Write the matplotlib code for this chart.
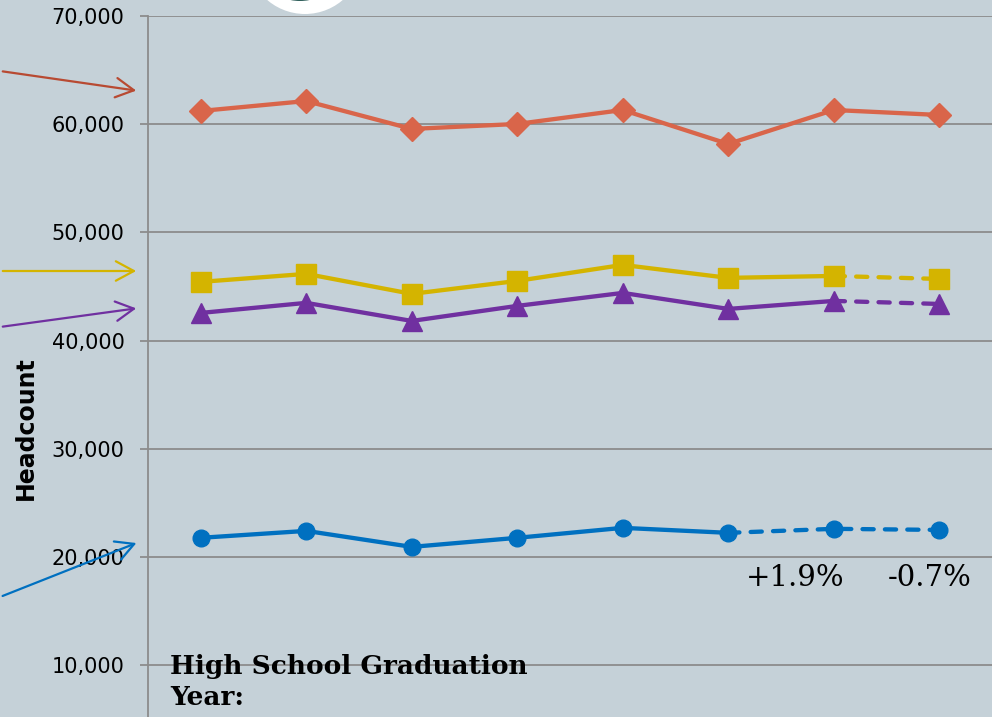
import matplotlib.pyplot as plt
import matplotlib.patches as mpatches
from matplotlib.transforms import IdentityTransform
import numpy as np

# headcount per graduation year (last points projected)
years = ['HS1', 'HS2', 'HS3', 'HS4', 'HS5', 'HS6', 'HS7', 'HS8']
orange_vals = [61220, 62140, 59560, 60020, 61310, 58170, 61310, 60850]
yellow_vals = [45420, 46160, 44310, 45510, 46990, 45790, 45970, 45690]
purple_vals = [42550, 43480, 41810, 43200, 44400, 42920, 43660, 43380]
blue_vals = [21760, 22400, 20920, 21760, 22680, 22220, 22590, 22490]
pct_labels = ['+1.9%', '-0.7%']

bg = '#c5d1d8'
grid_col = '#8c8c8c'
c_orange = '#d9654a'
c_yellow = '#d4b400'
c_purple = '#7030a0'
c_blue = '#0070c0'

fig = plt.figure(figsize=(9.92, 7.17), dpi=100, facecolor=bg)
ax = fig.add_axes([148/992, 0, 1 - 148/992, 1 - 16/717])
ax.set_facecolor(bg)

x = np.arange(len(years))

def draw(vals, color, marker, ms, solid_to):
    ax.plot(x[:solid_to + 1], vals[:solid_to + 1], color=color, lw=3.1,
            solid_capstyle='round', zorder=3)
    if solid_to < len(vals) - 1:
        ax.plot(x[solid_to:], vals[solid_to:], color=color, lw=3.1,
                ls=(0, (2.6, 2.6)), dash_capstyle='round', zorder=3)
    ax.plot(x, vals, ls='none', marker=marker, ms=ms, color=color, zorder=4)

draw(orange_vals, c_orange, 'D', 12.5, 7)
draw(yellow_vals, c_yellow, 's', 14.5, 6)
draw(purple_vals, c_purple, '^', 14.5, 6)
draw(blue_vals, c_blue, 'o', 12, 5)

ax.set_xlim(-0.5, 7.5)
ax.set_ylim(5194, 70000)
ax.set_xticks([])
ax.set_yticks(np.arange(10000, 70001, 10000))
ax.set_yticklabels([f'{v:,}' for v in range(10000, 70001, 10000)], fontsize=15)
ax.tick_params(axis='y', length=6, color=grid_col, width=1.3, pad=11)
ax.yaxis.grid(True, color=grid_col, lw=1.3)
ax.set_axisbelow(True)
for s in ['top', 'right', 'bottom']:
    ax.spines[s].set_visible(False)
ax.spines['left'].set_color(grid_col)
ax.spines['left'].set_linewidth(1.3)

fig.text(26/992, 1 - 428/717, 'Headcount', rotation=90, fontsize=17,
         fontweight='bold', ha='center', va='center')

# percent change labels
fig.text(795/992, 1 - 578/717, pct_labels[0], fontsize=21,
         family='DejaVu Serif', ha='center', va='center')
fig.text(930/992, 1 - 578/717, pct_labels[1], fontsize=21,
         family='DejaVu Serif', ha='center', va='center')

fig.text(170/992, 1 - 682/717, 'High School Graduation\nYear:', fontsize=19,
         family='DejaVu Serif', fontweight='bold', ha='left', va='center',
         linespacing=1.3)

# arrows from the left edge
arrows = [((0, 71), (139, 91), '#b84a32'),
          ((0, 271), (139, 271), c_yellow),
          ((0, 327), (139, 308), c_purple),
          ((0, 597), (139, 542), c_blue)]
for (x0, y0), (x1, y1), col in arrows:
    fig.add_artist(mpatches.FancyArrowPatch(
        (x0 / 992, 1 - y0 / 717), (x1 / 992, 1 - y1 / 717),
        transform=fig.transFigure, arrowstyle='->,head_length=13,head_width=7',
        color=col, lw=1.6, mutation_scale=1))

# partial logo at the top
fig.add_artist(mpatches.Circle((305, 717 + 44), 58, transform=IdentityTransform(),
                               facecolor='white', edgecolor='none'))
fig.add_artist(mpatches.Circle((300, 717 + 47), 48, transform=IdentityTransform(),
                               facecolor='#2e5e5a', edgecolor='none'))

fig.savefig('out.png', dpi=100, facecolor=bg)
